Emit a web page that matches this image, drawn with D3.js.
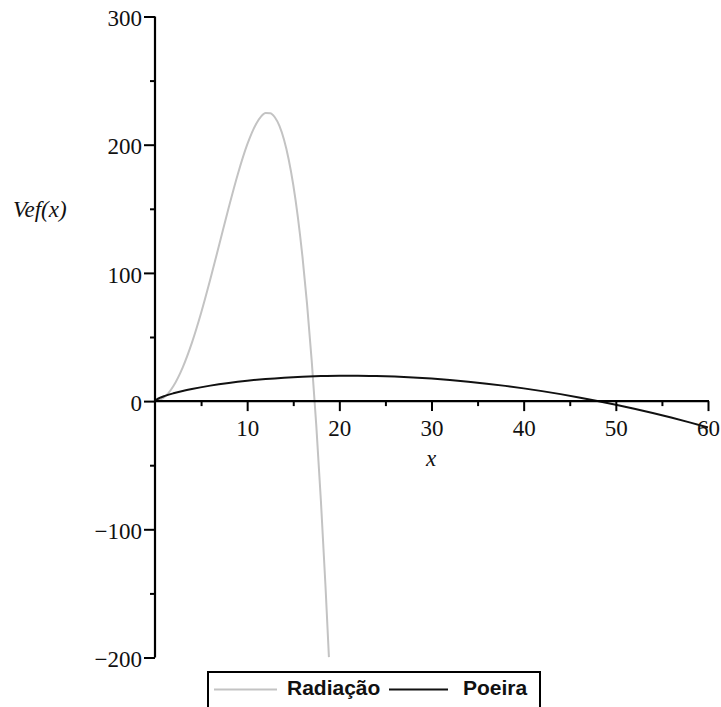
<!DOCTYPE html>
<html>
<head>
<meta charset="utf-8">
<script src="https://cdn.jsdelivr.net/npm/d3@7"></script>
<style>
  html, body { margin: 0; padding: 0; background: #fff; overflow: hidden; }
  svg { display: block; }
  .serif { font-family: "Liberation Serif", "Times New Roman", Times, "DejaVu Serif", serif; }
  .sans { font-family: "Liberation Sans", Arial, Helvetica, sans-serif; }
</style>
</head>
<body>
<svg id="chart" width="721" height="707"></svg>
<script>
// ---- data ----
const radX = [0, 1, 2, 3, 4, 5, 6, 7, 8, 9, 10, 11, 11.5, 12, 12.5, 13, 13.5, 14, 14.5, 15, 15.5, 16, 16.5, 17, 17.5, 18, 18.5, 18.87];
const radY = [0, 2.99, 11.84, 26.19, 45.44, 68.75, 95.04, 122.99, 151.04, 177.39, 200, 216.59, 221.9, 224.64, 224.6, 221.39, 214.6, 203.84, 188.7, 168.75, 143.6, 112.64, 75.5, 31.79, -19.1, -77.76, -144.6, -199.7];
const poeX = [0, 0.25, 0.5, 1, 2, 3, 4, 6, 8, 10, 12, 14, 16, 18, 20, 22, 24, 26, 28, 30, 32, 34, 36, 38, 40, 42, 44, 46, 48, 50, 52, 54, 56, 58, 60];
const poeY = [0, 1.55, 2.45, 3.88, 6.10, 7.91, 9.47, 12.08, 14.17, 15.87, 17.23, 18.29, 19.06, 19.56, 19.82, 19.83, 19.60, 19.16, 18.48, 17.58, 16.47, 15.15, 13.62, 11.88, 9.93, 7.78, 5.44, 2.88, 0.13, -2.82, -5.97, -9.31, -12.85, -16.59, -20.51];
const xMajorTicks = [10, 20, 30, 40, 50, 60];
const xMinorTicks = [5, 15, 25, 35, 45, 55];
const yMajorTicks = [-200, -100, 0, 100, 200, 300];
const yMinorTicks = [-150, -50, 50, 150, 250];
const seriesNames = ["Radiação", "Poeira"];
const seriesColors = ["#c3c3c3", "#111111"];
const xLabel = "x";
const yLabel = "Vef(x)";

// ---- scales ----
const svg = d3.select("#chart");
const x = d3.scaleLinear().domain([0, 60]).range([155, 708]);
const y = d3.scaleLinear().domain([-200, 300]).range([657.5, 16.5]);

const fmt = d => d < 0 ? "\u2212" + Math.abs(d) : String(d);

// ---- curves ----
const line = d3.line().x(d => x(d[0])).y(d => y(d[1])).curve(d3.curveMonotoneX);
const radData = radX.map((v, i) => [v, radY[i]]);
const poeData = poeX.map((v, i) => [v, poeY[i]]);

svg.append("path").datum(radData).attr("d", line)
  .attr("fill", "none").attr("stroke", seriesColors[0]).attr("stroke-width", 2);
svg.append("path").datum(poeData).attr("d", line)
  .attr("fill", "none").attr("stroke", seriesColors[1]).attr("stroke-width", 2);

// ---- axes ----
const yAxis = d3.axisLeft(y).tickValues(yMajorTicks).tickSize(11).tickPadding(2).tickFormat(fmt);
const yAxisMinor = d3.axisLeft(y).tickValues(yMinorTicks).tickSize(5).tickFormat("");
const xAxis = d3.axisBottom(x).tickValues(xMajorTicks).tickSize(10).tickPadding(8).tickFormat(fmt);
const xAxisMinor = d3.axisBottom(x).tickValues(xMinorTicks).tickSize(5).tickFormat("");

function styleAxis(g) {
  g.attr("font-family", null).attr("font-size", null);
  g.select(".domain").remove();
  g.selectAll(".tick line").attr("stroke", "#000").attr("stroke-width", 2);
  g.selectAll(".tick text").attr("class", "serif").attr("fill", "#111").style("font-size", "23px");
}

const gy = svg.append("g").attr("transform", `translate(${x(0)},0)`).call(yAxis).call(styleAxis);
gy.selectAll(".tick text").attr("dy", "0.4em");
svg.append("g").attr("transform", `translate(${x(0)},0)`).call(yAxisMinor).call(styleAxis);
const gx = svg.append("g").attr("transform", `translate(0,${y(0)})`).call(xAxis).call(styleAxis);
gx.selectAll(".tick text").attr("dy", "0.74em");
svg.append("g").attr("transform", `translate(0,${y(0)})`).call(xAxisMinor).call(styleAxis);

// axis lines
svg.append("line").attr("x1", x(0)).attr("x2", x(0)).attr("y1", y(300)).attr("y2", y(-200))
  .attr("stroke", "#000").attr("stroke-width", 2.2);
svg.append("line").attr("x1", x(0)).attr("x2", x(60) + 1).attr("y1", y(0)).attr("y2", y(0))
  .attr("stroke", "#000").attr("stroke-width", 2.2);

// axis titles
svg.append("text").attr("class", "serif").attr("x", 431).attr("y", 466).attr("text-anchor", "middle")
  .style("font-style", "italic").style("font-size", "23px")
  .attr("fill", "#111").text(xLabel);
svg.append("text").attr("class", "serif").attr("x", 13).attr("y", 217).attr("text-anchor", "start")
  .style("font-style", "italic").style("font-size", "23px")
  .attr("fill", "#111").text(yLabel);

// ---- legend ----
const lg = svg.append("g");
lg.append("rect").attr("x", 208).attr("y", 672).attr("width", 332).attr("height", 60)
  .attr("fill", "#fff").attr("stroke", "#000").attr("stroke-width", 2);
const legendItems = [
  { name: seriesNames[0], color: seriesColors[0], x1: 214, x2: 277, tx: 287 },
  { name: seriesNames[1], color: seriesColors[1], x1: 389, x2: 448, tx: 463 }
];
legendItems.forEach(it => {
  lg.append("line").attr("x1", it.x1).attr("x2", it.x2).attr("y1", 689.5).attr("y2", 689.5)
    .attr("stroke", it.color).attr("stroke-width", 2);
  lg.append("text").attr("class", "sans").attr("x", it.tx).attr("y", 695)
    .style("font-weight", "bold").style("font-size", "21px").attr("fill", "#111").text(it.name);
});
</script>
</body>
</html>
